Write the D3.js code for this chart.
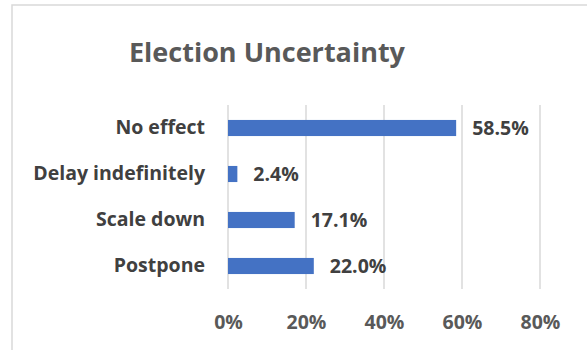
<!DOCTYPE html>
<html>
<head>
<meta charset="utf-8">
<script src="https://cdn.jsdelivr.net/npm/d3@7"></script>
<style>
  html, body { margin: 0; padding: 0; background: #fff; }
  svg { display: block; }
  text { font-family: "Open Sans", sans-serif; font-weight: 700; }
</style>
</head>
<body>
<script>
// Survey responses on how election uncertainty affects plans
const categories = ["No effect", "Delay indefinitely", "Scale down", "Postpone"];
const shares = [58.5, 2.4, 17.1, 22.0];
const tickValues = [0, 20, 40, 60, 80];
const chartTitle = "Election Uncertainty";

const W = 587, H = 350;
const labelSize = 19.5;
const svg = d3.select("body").append("svg").attr("width", W).attr("height", H);

// Chart frame (extends past the window on the right and bottom)
svg.append("rect")
  .attr("x", 12).attr("y", 5)
  .attr("width", W + 20).attr("height", H + 20)
  .attr("fill", "#fff").attr("stroke", "#d9d9d9").attr("stroke-width", 1.5);

svg.append("text")
  .attr("x", 267).attr("y", 62)
  .attr("text-anchor", "middle")
  .attr("fill", "#595959")
  .attr("font-size", 27)
  .text(chartTitle);

const x = d3.scaleLinear().domain([0, 80]).range([228, 540]);
const y = d3.scaleBand().domain(categories).range([105, 289]).paddingInner(0.65).paddingOuter(0.325);

// Vertical gridlines
svg.append("g")
  .selectAll("line")
  .data(tickValues)
  .join("line")
  .attr("x1", d => x(d)).attr("x2", d => x(d))
  .attr("y1", 105).attr("y2", 289)
  .attr("stroke", "#d9d9d9").attr("stroke-width", 1.5);

// Bars
svg.append("g")
  .selectAll("rect")
  .data(shares)
  .join("rect")
  .attr("x", x(0))
  .attr("y", (d, i) => y(categories[i]))
  .attr("width", d => x(d) - x(0))
  .attr("height", y.bandwidth())
  .attr("fill", "#4472c4");

// Value labels
svg.append("g")
  .selectAll("text")
  .data(shares)
  .join("text")
  .attr("x", d => x(d) + 16)
  .attr("y", (d, i) => y(categories[i]) + y.bandwidth() / 2)
  .attr("dy", "0.35em")
  .attr("fill", "#404040")
  .attr("font-size", labelSize)
  .text(d => d.toFixed(1) + "%");

// Category axis
const yAxis = d3.axisLeft(y).tickSize(0).tickPadding(0);
const gy = svg.append("g").attr("transform", "translate(205,0)").call(yAxis);
gy.select(".domain").remove();
gy.selectAll("text")
  .attr("font-size", labelSize)
  .attr("fill", "#404040")
  .style("font-family", "'Open Sans', sans-serif")
  .style("font-weight", 700);

// Value axis
const xAxis = d3.axisBottom(x).tickValues(tickValues).tickFormat(d => d + "%").tickSize(0).tickPadding(0);
const gx = svg.append("g").attr("transform", "translate(0,315)").call(xAxis);
gx.select(".domain").remove();
gx.selectAll("text")
  .attr("font-size", labelSize)
  .attr("fill", "#595959")
  .style("font-family", "'Open Sans', sans-serif")
  .style("font-weight", 700);
</script>
</body>
</html>
